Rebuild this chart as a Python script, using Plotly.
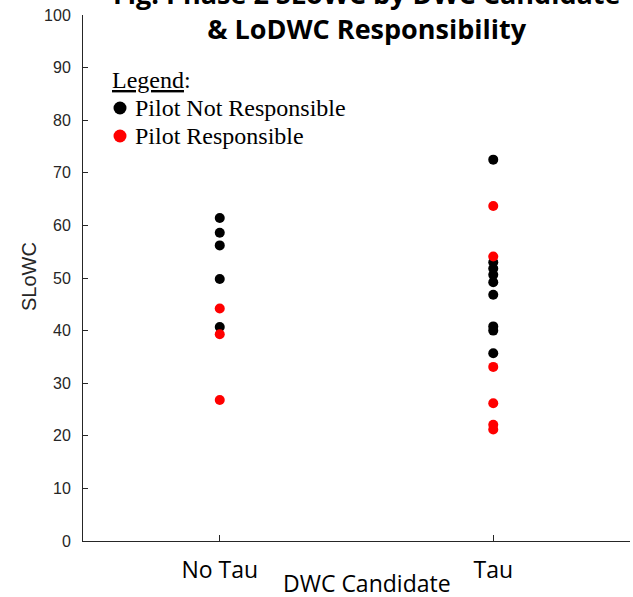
import plotly.graph_objects as go

# SLoWC scores by DWC candidate, split by LoDWC responsibility
categories = ["No Tau", "Tau"]
category_pos = [1, 2]

no_tau_not_resp = [61.4, 58.6, 56.2, 49.8, 40.7]
no_tau_resp = [44.2, 39.3, 26.8]

tau_not_resp = [72.5, 53.0, 51.8, 50.6, 49.2, 46.8, 40.8, 40.0, 35.7]
tau_resp = [63.7, 54.1, 33.1, 26.2, 22.1, 21.2]

y_ticks = list(range(0, 101, 10))

title_lines = ["Fig. Phase 2 SLoWC by DWC Candidate", "& LoDWC Responsibility"]
x_title = "DWC Candidate"
y_title = "SLoWC"
legend_heading = "<u>Legend</u>:"
legend_labels = ["Pilot Not Responsible", "Pilot Responsible"]

BLACK = "#000000"
RED = "#ff0000"
AXIS = "#262626"
SERIF = "Liberation Serif"

# plot-area geometry in pixels
W, H = 633, 597
ML, MR, MT, MB = 83, 3, 15, 56
PW, PH = W - ML - MR, H - MT - MB


def px_x(px):
    return (px - ML) / PW


def px_y(py):
    return (H - MB - py) / PH


fig = go.Figure()

# data points (not-responsible first, responsible drawn on top)
fig.add_trace(go.Scatter(
    x=[category_pos[0]] * len(no_tau_not_resp) + [category_pos[1]] * len(tau_not_resp),
    y=no_tau_not_resp + tau_not_resp,
    mode="markers", marker=dict(color=BLACK, size=10, line=dict(width=0)),
    name=legend_labels[0], hoverinfo="y",
))
fig.add_trace(go.Scatter(
    x=[category_pos[0]] * len(no_tau_resp) + [category_pos[1]] * len(tau_resp),
    y=no_tau_resp + tau_resp,
    mode="markers", marker=dict(color=RED, size=10, line=dict(width=0)),
    name=legend_labels[1], hoverinfo="y",
))

# legend: heading, colored dots and labels
legend_rows_py = [108, 136]
annotations = [dict(
    text=legend_heading, xref="paper", yref="paper",
    x=px_x(110), y=px_y(80), xanchor="left", yanchor="middle",
    showarrow=False, font=dict(family=SERIF, size=24, color=BLACK),
)]
shapes = []
for label, col, py in zip(legend_labels, [BLACK, RED], legend_rows_py):
    annotations.append(dict(
        text=label, xref="paper", yref="paper",
        x=px_x(133), y=px_y(py), xanchor="left", yanchor="middle",
        showarrow=False, font=dict(family=SERIF, size=24, color=BLACK),
    ))
    shapes.append(dict(
        type="circle", xref="paper", yref="paper",
        xsizemode="pixel", ysizemode="pixel",
        xanchor=px_x(120), yanchor=px_y(py),
        x0=-6.5, x1=6.5, y0=-6.5, y1=6.5,
        fillcolor=col, line=dict(width=0),
    ))

# two-line title, partly running off the top of the page
annotations.append(dict(
    text="<br>".join(title_lines),
    xref="paper", yref="paper", x=px_x(367), y=1.0, xanchor="center", yanchor="bottom",
    yshift=-34, showarrow=False, align="center",
    font=dict(family="Open Sans", size=27, color=BLACK, weight="bold"),
))

# axis titles
annotations.append(dict(
    text=x_title, xref="paper", yref="paper",
    x=px_x(367), y=px_y(583), xanchor="center", yanchor="middle",
    showarrow=False, font=dict(family="Open Sans", size=23, color=BLACK),
))
annotations.append(dict(
    text=y_title, xref="paper", yref="paper", textangle=-90,
    x=px_x(29), y=px_y(277), xanchor="center", yanchor="middle",
    showarrow=False, font=dict(family="Liberation Sans", size=20, color=AXIS),
))

fig.update_layout(
    width=W, height=H,
    margin=dict(l=ML, r=MR, t=MT, b=MB, pad=0),
    paper_bgcolor="white", plot_bgcolor="white",
    showlegend=False,
    xaxis=dict(
        range=[0.5, 2.5], tickmode="array", tickvals=category_pos, ticktext=categories,
        ticks="inside", ticklen=6, tickcolor=AXIS, tickwidth=1,
        showline=True, linecolor=AXIS, linewidth=1, mirror=False,
        showgrid=False, zeroline=False, automargin=False,
        tickfont=dict(family="Open Sans", size=23, color=BLACK),
        ticklabelstandoff=8,
    ),
    yaxis=dict(
        range=[0, 100], tickmode="array", tickvals=y_ticks,
        ticks="inside", ticklen=5, tickcolor=AXIS, tickwidth=1,
        showline=True, linecolor=AXIS, linewidth=1, mirror=False,
        showgrid=False, zeroline=False, automargin=False,
        tickfont=dict(family="Liberation Sans", size=16, color=AXIS),
        ticklabelstandoff=8,
    ),
    annotations=annotations,
    shapes=shapes,
)

fig.write_html("out.html")
